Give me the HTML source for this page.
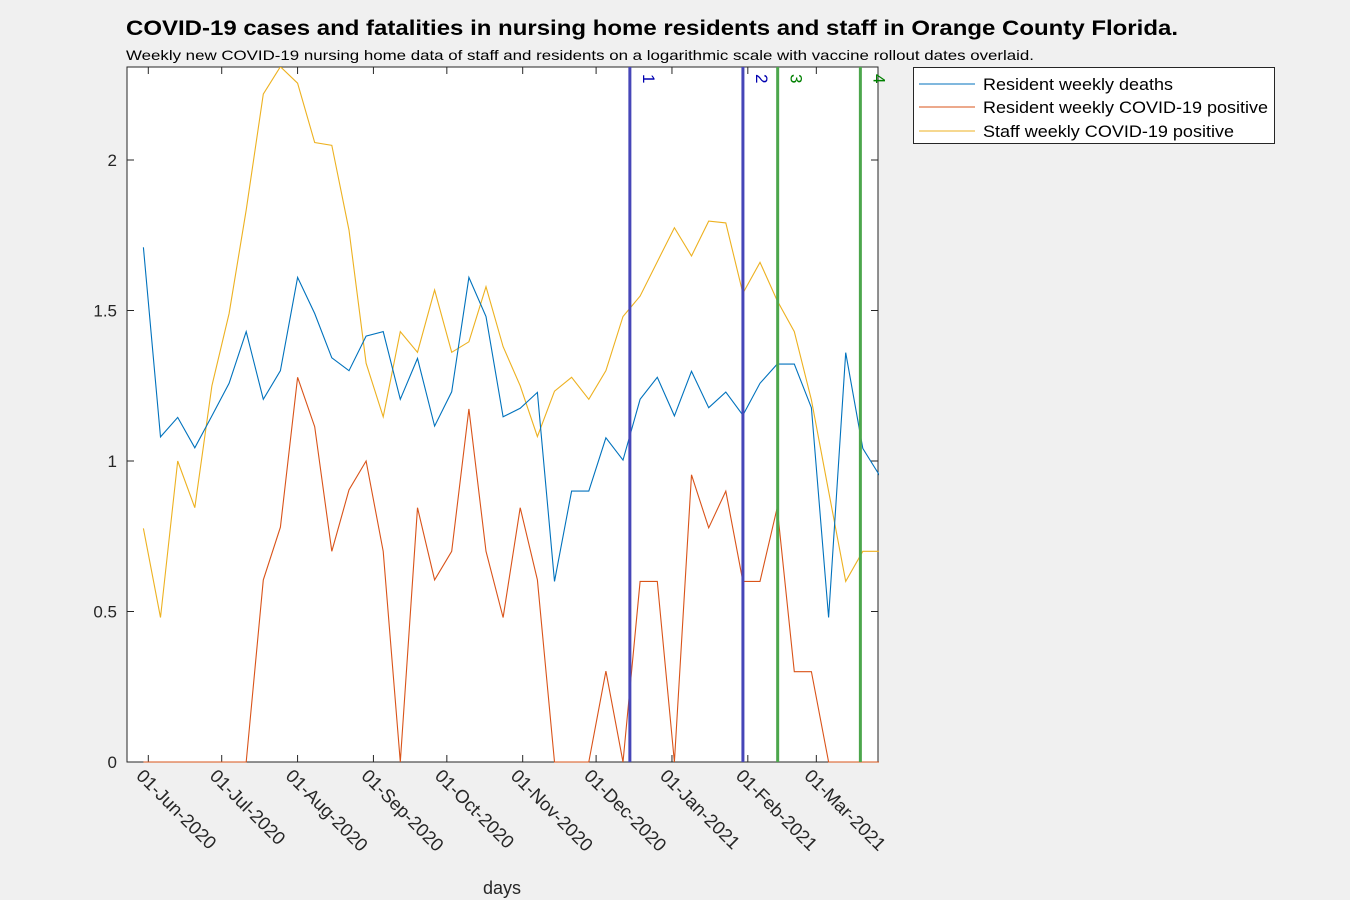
<!DOCTYPE html>
<html><head><meta charset="utf-8"><style>
body{margin:0;background:#f0f0f0;width:1350px;height:900px;overflow:hidden;font-family:"Liberation Sans",Arial,sans-serif}
svg{display:block}
</style></head><body>
<svg id="chart" width="1350" height="900" xmlns="http://www.w3.org/2000/svg">
<text x="126" y="35" font-size="21" font-weight="bold" fill="#000" textLength="1052" lengthAdjust="spacingAndGlyphs">COVID-19 cases and fatalities in nursing home residents and staff in Orange County Florida.</text>
<text x="126" y="60" font-size="14" fill="#000" textLength="908" lengthAdjust="spacingAndGlyphs">Weekly new COVID-19 nursing home data of staff and residents on a logarithmic scale with vaccine rollout dates overlaid.</text>
<rect x="127" y="67" width="751" height="695" fill="#fff"/>
<rect x="127" y="67" width="751" height="695" fill="none" stroke="#262626" stroke-width="1"/>
<g id="axes"></g>
<g id="marks"></g>
<text x="502" y="894" font-size="18" text-anchor="middle" fill="#262626">days</text>
<g>
<rect x="913.5" y="67.5" width="361" height="76" fill="#fff" stroke="#262626"/>
<g><line x1="919" y1="84" x2="975" y2="84" stroke="#0072bd"/><text x="983" y="90" font-size="17" fill="#000" textLength="190" lengthAdjust="spacingAndGlyphs">Resident weekly deaths</text></g>
<g><line x1="919" y1="107" x2="975" y2="107" stroke="#d95319"/><text x="983" y="113" font-size="17" fill="#000" textLength="285" lengthAdjust="spacingAndGlyphs">Resident weekly COVID-19 positive</text></g>
<g><line x1="919" y1="131" x2="975" y2="131" stroke="#edb120"/><text x="983" y="137" font-size="17" fill="#000" textLength="251" lengthAdjust="spacingAndGlyphs">Staff weekly COVID-19 positive</text></g>
</g>
</svg>
<script>
// days since 2020-06-01 for week index i: -2 + 7*i
const startDay = -2;
const deaths = [1.71,1.08,1.145,1.044,1.15,1.258,1.43,1.205,1.30,1.61,1.49,1.343,1.30,1.415,1.43,1.205,1.341,1.116,1.23,1.61,1.48,1.147,1.175,1.228,0.60,0.90,0.90,1.077,1.003,1.205,1.278,1.15,1.298,1.177,1.229,1.152,1.258,1.322,1.322,1.177,0.48,1.36,1.042,0.95];
const residentPos = [0,0,0,0,0,0,0,0.605,0.78,1.278,1.114,0.70,0.904,1.0,0.70,0,0.845,0.605,0.70,1.173,0.70,0.48,0.845,0.605,0,0,0,0.302,0,0.6,0.6,0,0.954,0.778,0.90,0.6,0.6,0.845,0.30,0.30,0,0,0,0];
const staffPos = [0.776,0.48,1.0,0.845,1.25,1.49,1.834,2.219,2.31,2.255,2.058,2.049,1.767,1.325,1.147,1.43,1.361,1.568,1.361,1.396,1.579,1.38,1.25,1.081,1.232,1.278,1.205,1.30,1.48,1.548,1.662,1.775,1.681,1.797,1.791,1.557,1.66,1.533,1.43,1.203,0.9,0.6,0.70,0.70];
const vaccineDays = [196.8,243,257.2,291];
const vaccineLabels = ["1","2","3","4"];
const vaccineColors = ["#4646b8","#4646b8","#4ca64c","#4ca64c"];
const vaccineTextColors = ["#0000b0","#0000b0","#008000","#008000"];
const yTicks = [0,0.5,1,1.5,2];
const yTickLabels = ["0","0.5","1","1.5","2"];
const xTickDays = [0,30,61,92,122,153,183,214,245,273];
const xTickLabels = ["01-Jun-2020","01-Jul-2020","01-Aug-2020","01-Sep-2020","01-Oct-2020","01-Nov-2020","01-Dec-2020","01-Jan-2021","01-Feb-2021","01-Mar-2021"];

const NS="http://www.w3.org/2000/svg";
const X0=127,X1=878,Y0=67,Y1=762;
function xs(d){return 148.3 + d*2.447;}
function ys(v){return 762 - v*301;}
function mk(tag,attrs,parent){const e=document.createElementNS(NS,tag);for(const k in attrs)e.setAttribute(k,attrs[k]);parent.appendChild(e);return e;}
const marks=document.getElementById('marks');
const axes=document.getElementById('axes');
const clip=mk('clipPath',{id:'pc'},mk('defs',{},marks));
mk('rect',{x:X0,y:Y0,width:X1-X0+1,height:Y1-Y0+2},clip);
const g=mk('g',{'clip-path':'url(#pc)'},marks);
function series(arr,color,name){
  const pts=arr.map((v,i)=>xs(startDay+7*i).toFixed(1)+','+ys(v).toFixed(1)).join(' ');
  const p=mk('polyline',{points:pts,fill:'none',stroke:color,'stroke-width':1.1},g);
  
  
}
series(staffPos,'#edb120','staff-positive-line');
series(residentPos,'#d95319','resident-positive-line');
series(deaths,'#0072bd','resident-deaths-line');
vaccineDays.forEach((d,i)=>{
  const x=xs(d);
  const l=mk('line',{x1:x,y1:Y0,x2:x,y2:Y1,stroke:vaccineColors[i],'stroke-width':3},marks);
  
  
  const t=mk('text',{x:x+13,y:74,'font-size':17,fill:vaccineTextColors[i],transform:'rotate(90 '+(x+13)+' 74)'},marks);
  t.textContent=vaccineLabels[i];
  
  
});
yTicks.forEach((v,i)=>{
  const y=ys(v);
  mk('line',{x1:X0,y1:y,x2:X0+7,y2:y,stroke:'#262626'},axes);
  mk('line',{x1:X1,y1:y,x2:X1-7,y2:y,stroke:'#262626'},axes);
  const t=mk('text',{x:117,y:y+6,'font-size':17,'text-anchor':'end',fill:'#262626'},axes);
  t.textContent=yTickLabels[i];
  
  
});
xTickDays.forEach((d,i)=>{
  const x=xs(d);
  mk('line',{x1:x,y1:Y1,x2:x,y2:Y1-7,stroke:'#262626'},axes);
  mk('line',{x1:x,y1:Y0,x2:x,y2:Y0+7,stroke:'#262626'},axes);
  const tx=x-13,ty=777;
  const t=mk('text',{x:tx,y:ty,'font-size':18.5,fill:'#262626',transform:'rotate(45 '+tx+' '+ty+')'},axes);
  t.textContent=xTickLabels[i];
  
  
});
</script>
</body></html>
